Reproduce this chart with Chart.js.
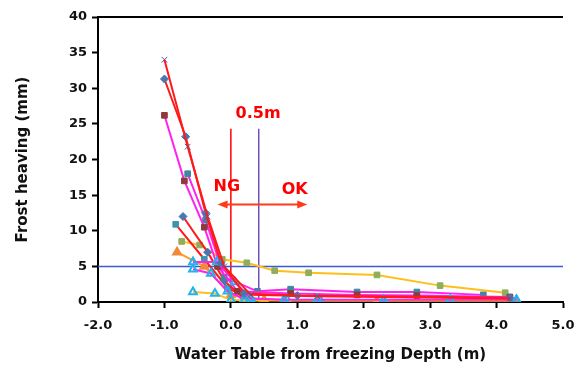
<!DOCTYPE html>
<html>
<head>
<meta charset="utf-8">
<script src="https://cdn.jsdelivr.net/npm/chart.js@4"></script>
<style>
  html, body { margin: 0; padding: 0; background: #fff; }
  #wrap { width: 574px; height: 379px; }
</style>
</head>
<body>
<div id="wrap"><canvas id="myChart" width="574" height="379"></canvas></div>
<script>
// data: water table depth (m) vs frost heaving (mm)
const s1x = [-1.0, -0.65, -0.35, -0.1, 0.3, 1.3, 4.2];
const s1y = [34, 21.8, 12, 5, 1, 0.8, 0.5];
const s2x = [-1.0, -0.68, -0.38, -0.15, 0.2, 1.0, 4.2];
const s2y = [31.3, 23.2, 12.5, 5.5, 1.2, 0.9, 0.6];
const s3x = [-1.0, -0.7, -0.4, -0.2, 0.1, 0.9, 1.9, 2.8, 4.2];
const s3y = [26.2, 17, 10.5, 5, 1.5, 1.2, 1.0, 0.9, 0.7];
const s4x = [-0.65, -0.38, -0.1, 0.4, 0.9, 1.9, 2.8, 3.8];
const s4y = [18, 11.5, 3.5, 1.5, 1.8, 1.4, 1.4, 1.0];
const s5x = [-0.72, -0.35, -0.1, 0.2];
const s5y = [12, 7, 3, 0.5];
const s6x = [-0.83, -0.4, -0.05, 0.3];
const s6y = [10.9, 6, 2, 0.3];
const s7x = [-0.74, -0.47, -0.13, 0.24, 0.66, 1.17, 2.2, 3.15, 4.13];
const s7y = [8.5, 8, 6, 5.5, 4.4, 4.1, 3.8, 2.3, 1.3];
const s8x = [-0.81, -0.4, 0, 0.5, 1.3, 2.2, 3.3, 4.3];
const s8y = [7, 5, 1, 0.3, 0.2, 0.2, 0.2, 0.2];
const s9x = [-0.57, -0.21, 0.06, 0.3, 0.8, 1.3, 2.3, 3.3, 4.3];
const s9y = [5.6, 5.6, 2.8, 0.5, 0.3, 0.3, 0.3, 0.3, 0.3];
const s10x = [-0.57, -0.24, 0.0, 0.2, 0.8, 1.35, 2.3, 3.3, 4.3];
const s10y = [1.4, 1.2, 0.3, 0.2, 0.2, 0.2, 0.2, 0.2, 0.2];
const s11x = [-0.57, -0.3, -0.05, 0.2, 0.85];
const s11y = [4.6, 4.0, 1.5, 0.4, 0.3];

// reference lines
const limitY = 5;          // 5 mm limit
const ngX = 0.0;           // red line
const okX = 0.42;          // purple 0.5m line
const markTop = 24.3;

const xTicks = [-2, -1, 0, 1, 2, 3, 4, 5];
const yTicks = [0, 5, 10, 15, 20, 25, 30, 35, 40];

function pts(xs, ys) {
    return xs.map((x, i) => ({ x: x, y: ys[i] }));
}

function series(xs, ys, line, marker, style, fill) {
    return {
        data: pts(xs, ys),
        showLine: true,
        borderColor: line,
        borderWidth: 2,
        pointStyle: style,
        pointRadius: style === 'triangle' ? 4.5 : 4,
        pointBackgroundColor: fill || marker,
        pointBorderColor: marker,
        pointBorderWidth: style === 'triangle' ? 2 : 1
    };
}

const cyan = '#1fb4ec';
// first dataset is painted last (on top)
const datasets = [
    series(s1x, s1y, '#ff1a1a', '#6e4a8e', 'crossRot'),
    series(s2x, s2y, '#ff1a1a', '#4a76b0', 'rectRot'),
    series(s9x, s9y, '#ff22ee', cyan, 'triangle', 'rgba(255,255,255,0)'),
    series(s10x, s10y, '#ffbf1a', cyan, 'triangle', 'rgba(255,255,255,0)'),
    series(s11x, s11y, '#ff22ee', cyan, 'triangle', 'rgba(255,255,255,0)'),
    series(s3x, s3y, '#ff22ee', '#8e3a3a', 'rect'),
    series(s4x, s4y, '#ff22ee', '#3f86a0', 'rect'),
    series(s5x, s5y, '#ff1a1a', '#4a76b0', 'rectRot'),
    series(s6x, s6y, '#ff1a1a', '#3f93b0', 'rect'),
    series(s7x, s7y, '#ffbf1a', '#8fae5a', 'rect'),
    series(s8x, s8y, '#ff9a2a', '#f08a3a', 'triangle'),
    { data: pts([-2, 5], [limitY, limitY]), showLine: true, borderColor: '#3b5bd6', borderWidth: 1.5, pointRadius: 0 },
    { data: pts([ngX, ngX], [0, markTop]), showLine: true, borderColor: '#ff0000', borderWidth: 1.5, pointRadius: 0 },
    { data: pts([okX, okX], [0, markTop]), showLine: true, borderColor: '#7a4fb5', borderWidth: 1.5, pointRadius: 0 }
];

// arrow and labels
const notes = {
    id: 'notes',
    afterDatasetsDraw(chart) {
        const ctx = chart.ctx;
        const xs = chart.scales.x, ys = chart.scales.y;
        ctx.save();
        // top border
        ctx.strokeStyle = '#000';
        ctx.lineWidth = 2;
        ctx.beginPath();
        ctx.moveTo(chart.chartArea.left, chart.chartArea.top);
        ctx.lineTo(chart.chartArea.right, chart.chartArea.top);
        ctx.stroke();

        const ay = ys.getPixelForValue(13.7);
        const a1 = xs.getPixelForValue(-0.2), a2 = xs.getPixelForValue(1.15);
        ctx.strokeStyle = '#ff3b1a';
        ctx.fillStyle = '#ff3b1a';
        ctx.lineWidth = 2;
        ctx.beginPath();
        ctx.moveTo(a1 + 4, ay);
        ctx.lineTo(a2 - 4, ay);
        ctx.stroke();
        [[a1, 1], [a2, -1]].forEach(([p, d]) => {
            ctx.beginPath();
            ctx.moveTo(p, ay);
            ctx.lineTo(p + d * 10, ay - 4);
            ctx.lineTo(p + d * 10, ay + 4);
            ctx.closePath();
            ctx.fill();
        });

        ctx.fillStyle = '#ff0000';
        ctx.font = 'bold 16px "DejaVu Sans"';
        ctx.textAlign = 'center';
        ctx.textBaseline = 'middle';
        ctx.fillText('NG', xs.getPixelForValue(-0.06), ys.getPixelForValue(16.1));
        ctx.fillText('OK', xs.getPixelForValue(0.96), ys.getPixelForValue(15.7));
        ctx.fillText('0.5m', xs.getPixelForValue(0.41), ys.getPixelForValue(26.4));
        ctx.restore();
    }
};

new Chart(document.getElementById('myChart').getContext('2d'), {
    type: 'scatter',
    data: { datasets: datasets },
    plugins: [notes],
    options: {
        responsive: false,
        animation: false,
        layout: { padding: { top: 17, right: 0, left: 0, bottom: 0 } },
        plugins: { legend: { display: false }, tooltip: { enabled: false } },
        scales: {
            x: {
                type: 'linear',
                min: -2, max: 5,
                afterBuildTicks: s => { s.ticks = xTicks.map(v => ({ value: v })); },
                afterFit: s => { s.height = 77; s.paddingRight = 11; s.paddingLeft = 0; },
                border: { color: '#000', width: 2 },
                grid: { display: true, drawOnChartArea: false, drawTicks: true, tickLength: 6, tickColor: '#000', tickWidth: 2 },
                ticks: {
                    color: '#111',
                    font: { family: 'DejaVu Sans', size: 13, weight: 'bold' },
                    padding: 10,
                    maxRotation: 0,
                    callback: v => v.toFixed(1)
                },
                title: {
                    display: true,
                    text: 'Water Table from freezing Depth (m)',
                    color: '#111',
                    font: { family: 'DejaVu Sans', size: 15, weight: 'bold' },
                    padding: { top: 12, bottom: 15 }
                }
            },
            y: {
                min: 0, max: 40,
                afterBuildTicks: s => { s.ticks = yTicks.map(v => ({ value: v })); },
                afterFit: s => { s.width = 98; },
                border: { color: '#000', width: 2 },
                grid: { display: true, drawOnChartArea: false, drawTicks: true, tickLength: 6, tickColor: '#000', tickWidth: 2 },
                ticks: {
                    color: '#111',
                    font: { family: 'DejaVu Sans', size: 13, weight: 'bold' },
                    padding: 5
                },
                title: {
                    display: true,
                    text: 'Frost heaving (mm)',
                    color: '#111',
                    font: { family: 'DejaVu Sans', size: 15, weight: 'bold' },
                    padding: { top: 14, bottom: 4 }
                }
            }
        }
    }
});
</script>
</body>
</html>
